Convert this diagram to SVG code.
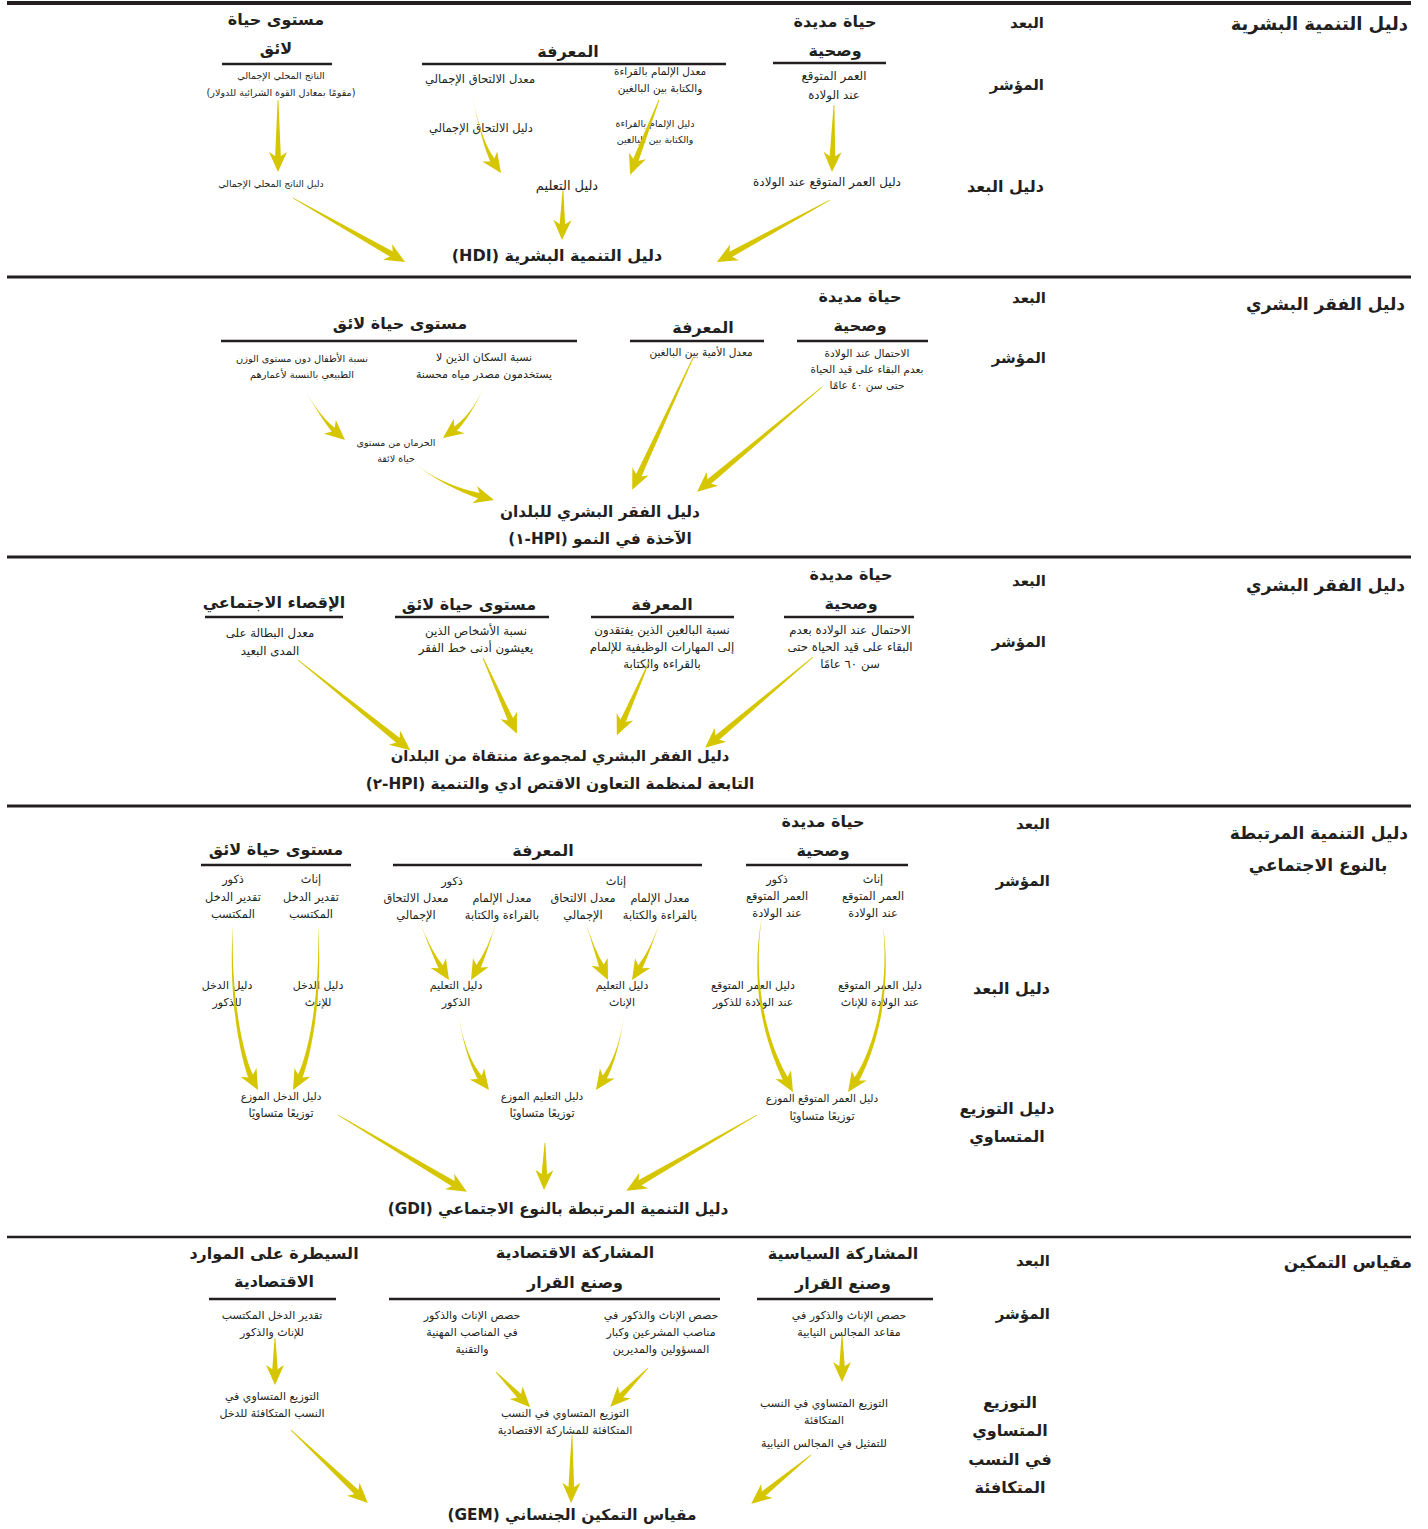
<svg xmlns="http://www.w3.org/2000/svg" xmlns:xlink="http://www.w3.org/1999/xlink" width="1428" height="1529" viewBox="0 0 1428 1529">
<defs>
<style>
text{font-family:"DejaVu Sans","Noto Sans",sans-serif;fill:#231f20}
.x{font-size:11px;text-anchor:middle}
.a{font-size:9.5px;text-anchor:middle}
.b{font-size:10.5px;text-anchor:middle}
.d{font-size:11.8px;text-anchor:middle}
.g{font-size:11.3px;text-anchor:middle}
.h{font-size:16px;font-weight:bold;text-anchor:middle}
.r{font-size:15px;font-weight:bold;text-anchor:end}
.c{font-size:15.3px;font-weight:bold;text-anchor:middle}
.ti{font-size:17px;font-weight:bold;text-anchor:end}
.m{font-size:15.3px;font-weight:bold;text-anchor:middle;direction:rtl}
.sep{stroke:#231f20;stroke-width:3}
.ul{stroke:#231f20;stroke-width:2.5}
.ar{fill:#d6c600}
</style>
<path id="shaft" d="M0,-0.4 L1,-3 L1,3 L0,0.4Z"/>
<path id="head" d="M0,0 L-20,-9 L-14,0 L-20,9Z"/>
</defs>
<rect width="1428" height="1529" fill="#fff"/>

<g id="separators">
<line class="sep" x1="7" y1="3" x2="1411" y2="3" style="stroke-width:4"/>
<line class="sep" x1="7" y1="277" x2="1411" y2="277"/>
<line class="sep" x1="7" y1="557" x2="1411" y2="557"/>
<line class="sep" x1="7" y1="806" x2="1411" y2="806"/>
<line class="sep" x1="7" y1="1237" x2="1411" y2="1237" style="stroke-width:2.5"/>
</g>

<!-- Section 1 HDI -->
<g id="hdi-title"><text class="ti" x="1408" y="30" style="font-size:18px">دليل التنمية البشرية</text></g>
<g id="hdi-labels">
<text class="r" x="1044" y="28">البعد</text>
<text class="r" x="1044" y="90">المؤشر</text>
<text class="r" x="1044" y="192" style="font-size:16px">دليل البعد</text>
</g>
<g id="hdi-dim-health"><text class="h" x="835" y="27">حياة مديدة</text><text class="h" x="835" y="56">وصحية</text><line class="ul" x1="773" y1="63" x2="886" y2="63"/></g>
<g id="hdi-dim-knowledge"><text class="h" x="568" y="57">المعرفة</text><line class="ul" x1="422" y1="64" x2="726" y2="64"/></g>
<g id="hdi-dim-living"><text class="h" x="276" y="25">مستوى حياة</text><text class="h" x="276" y="54">لائق</text><line class="ul" x1="222" y1="64" x2="332" y2="64"/></g>
<g id="hdi-ind-life"><text class="d" x="834" y="80">العمر المتوقع</text><text class="d" x="834" y="99">عند الولادة</text></g>
<g id="hdi-ind-literacy"><text class="b" x="660" y="75">معدل الإلمام بالقراءة</text><text class="b" x="660" y="92">والكتابة بين البالغين</text></g>
<g id="hdi-ind-enrol"><text class="x" x="480" y="83" style="font-size:11.5px">معدل الالتحاق الإجمالي</text></g>
<g id="hdi-ind-gdp"><text class="a" x="281" y="79">الناتج المحلي الإجمالي</text><text class="a" x="281" y="96" style="direction:rtl;font-size:9.6px">(مقومًا بمعادل القوة الشرائية للدولار)</text></g>
<g id="hdi-idx-enrol"><text class="x" x="481" y="132" style="font-size:11.4px">دليل الالتحاق الإجمالي</text></g>
<g id="hdi-idx-literacy"><text class="a" x="655" y="127">دليل الإلمام بالقراءة</text><text class="a" x="655" y="143">والكتابة بين البالغين</text></g>
<g id="hdi-idx-gdp"><text class="a" x="271" y="187" style="font-size:9.3px">دليل الناتج المحلي الإجمالي</text></g>
<g id="hdi-idx-edu"><text class="x" x="567" y="190" style="font-size:13px">دليل التعليم</text></g>
<g id="hdi-idx-life"><text class="x" x="827" y="186" style="font-size:12px">دليل العمر المتوقع عند الولادة</text></g>
<g id="hdi-main"><text class="m" x="557" y="261" style="font-size:16px">دليل التنمية البشرية (HDI)</text></g>

<!-- Section 2 HPI-1 -->
<g id="hpi1-title"><text class="ti" x="1405" y="310">دليل الفقر البشري</text></g>
<g id="hpi1-labels">
<text class="r" x="1046" y="303">البعد</text>
<text class="r" x="1046" y="363">المؤشر</text>
</g>
<g id="hpi1-dim-health"><text class="h" x="860" y="302">حياة مديدة</text><text class="h" x="860" y="331">وصحية</text><line class="ul" x1="797" y1="341" x2="928" y2="341"/></g>
<g id="hpi1-dim-knowledge"><text class="h" x="703" y="333">المعرفة</text><line class="ul" x1="630" y1="341" x2="764" y2="341"/></g>
<g id="hpi1-dim-living"><text class="h" x="400" y="329">مستوى حياة لائق</text><line class="ul" x1="221" y1="341" x2="577" y2="341"/></g>
<g id="hpi1-ind-survival"><text class="b" x="867" y="357">الاحتمال عند الولادة</text><text class="b" x="867" y="373">بعدم البقاء على قيد الحياة</text><text class="b" x="867" y="389">حتى سن ٤٠ عامًا</text></g>
<g id="hpi1-ind-illiteracy"><text class="b" x="701" y="356">معدل الأمية بين البالغين</text></g>
<g id="hpi1-ind-water"><text class="x" x="484" y="361">نسبة السكان الذين لا</text><text class="x" x="484" y="378">يستخدمون مصدر مياه محسنة</text></g>
<g id="hpi1-ind-children"><text class="a" x="302" y="362" style="font-size:9.8px">نسبة الأطفال دون مستوى الوزن</text><text class="a" x="302" y="378" style="font-size:9.8px">الطبيعي بالنسبة لأعمارهم</text></g>
<g id="hpi1-deprivation"><text class="a" x="396" y="446">الحرمان من مستوى</text><text class="a" x="396" y="462">حياة لائقة</text></g>
<g id="hpi1-main"><text class="c" x="600" y="517">دليل الفقر البشري للبلدان</text><text class="m" x="600" y="544">الآخذة في النمو (HPI-١)</text></g>

<!-- Section 3 HPI-2 -->
<g id="hpi2-title"><text class="ti" x="1405" y="591">دليل الفقر البشري</text></g>
<g id="hpi2-labels">
<text class="r" x="1046" y="586">البعد</text>
<text class="r" x="1046" y="647">المؤشر</text>
</g>
<g id="hpi2-dim-health"><text class="h" x="851" y="580">حياة مديدة</text><text class="h" x="851" y="609">وصحية</text><line class="ul" x1="784" y1="617" x2="914" y2="617"/></g>
<g id="hpi2-dim-knowledge"><text class="h" x="662" y="610">المعرفة</text><line class="ul" x1="591" y1="617" x2="734" y2="617"/></g>
<g id="hpi2-dim-living"><text class="h" x="469" y="610">مستوى حياة لائق</text><line class="ul" x1="395" y1="617" x2="549" y2="617"/></g>
<g id="hpi2-dim-exclusion"><text class="h" x="274" y="608">الإقصاء الاجتماعي</text><line class="ul" x1="205" y1="617" x2="343" y2="617"/></g>
<g id="hpi2-ind-survival"><text class="d" x="850" y="634">الاحتمال عند الولادة بعدم</text><text class="d" x="850" y="651">البقاء على قيد الحياة حتى</text><text class="d" x="850" y="668">سن ٦٠ عامًا</text></g>
<g id="hpi2-ind-literacy"><text class="d" x="662" y="634">نسبة البالغين الذين يفتقدون</text><text class="d" x="662" y="651">إلى المهارات الوظيفية للإلمام</text><text class="d" x="662" y="668">بالقراءة والكتابة</text></g>
<g id="hpi2-ind-poverty"><text class="d" x="476" y="635">نسبة الأشخاص الذين</text><text class="d" x="476" y="652">يعيشون أدنى خط الفقر</text></g>
<g id="hpi2-ind-unemployment"><text class="d" x="270" y="637">معدل البطالة على</text><text class="d" x="270" y="655">المدى البعيد</text></g>
<g id="hpi2-main"><text class="c" x="560" y="761" style="font-size:14.7px">دليل الفقر البشري لمجموعة منتقاة من البلدان</text><text class="m" x="560" y="789">التابعة لمنظمة التعاون الاقتص ادي والتنمية (HPI-٢)</text></g>

<!-- Section 4 GDI -->
<g id="gdi-title"><text class="ti" x="1408" y="839">دليل التنمية المرتبطة</text><text class="c" x="1318" y="871" style="font-size:17px">بالنوع الاجتماعي</text></g>
<g id="gdi-labels">
<text class="r" x="1050" y="829">البعد</text>
<text class="r" x="1050" y="886">المؤشر</text>
<text class="r" x="1050" y="994" style="font-size:16px">دليل البعد</text>
<text class="h" x="1007" y="1114">دليل التوزيع</text>
<text class="h" x="1007" y="1142">المتساوي</text>
</g>
<g id="gdi-dim-health"><text class="h" x="823" y="827">حياة مديدة</text><text class="h" x="823" y="856">وصحية</text><line class="ul" x1="746" y1="865" x2="908" y2="865"/></g>
<g id="gdi-dim-knowledge"><text class="h" x="543" y="856">المعرفة</text><line class="ul" x1="393" y1="865" x2="702" y2="865"/></g>
<g id="gdi-dim-living"><text class="h" x="276" y="855">مستوى حياة لائق</text><line class="ul" x1="201" y1="865" x2="351" y2="865"/></g>
<g id="gdi-ind-life-f"><text class="g" x="873" y="883">إناث</text><text class="g" x="873" y="900">العمر المتوقع</text><text class="g" x="873" y="917">عند الولادة</text></g>
<g id="gdi-ind-life-m"><text class="g" x="777" y="883">ذكور</text><text class="g" x="777" y="900">العمر المتوقع</text><text class="g" x="777" y="917">عند الولادة</text></g>
<g id="gdi-ind-f-label"><text class="g" x="616" y="885">إناث</text></g>
<g id="gdi-ind-lit-f"><text class="g" x="660" y="902">معدل الإلمام</text><text class="g" x="660" y="919">بالقراءة والكتابة</text></g>
<g id="gdi-ind-enr-f"><text class="g" x="583" y="902">معدل الالتحاق</text><text class="g" x="583" y="919">الإجمالي</text></g>
<g id="gdi-ind-m-label"><text class="g" x="452" y="885">ذكور</text></g>
<g id="gdi-ind-lit-m"><text class="g" x="502" y="902">معدل الإلمام</text><text class="g" x="502" y="919">بالقراءة والكتابة</text></g>
<g id="gdi-ind-enr-m"><text class="g" x="416" y="902">معدل الالتحاق</text><text class="g" x="416" y="919">الإجمالي</text></g>
<g id="gdi-ind-inc-f"><text class="g" x="311" y="883">إناث</text><text class="g" x="311" y="901">تقدير الدخل</text><text class="g" x="311" y="918">المكتسب</text></g>
<g id="gdi-ind-inc-m"><text class="g" x="233" y="883">ذكور</text><text class="g" x="233" y="901">تقدير الدخل</text><text class="g" x="233" y="918">المكتسب</text></g>
<g id="gdi-idx-life-f"><text class="x" x="880" y="989">دليل العمر المتوقع</text><text class="x" x="880" y="1006">عند الولادة للإناث</text></g>
<g id="gdi-idx-life-m"><text class="x" x="753" y="989">دليل العمر المتوقع</text><text class="x" x="753" y="1006">عند الولادة للذكور</text></g>
<g id="gdi-idx-edu-f"><text class="x" x="622" y="989">دليل التعليم</text><text class="x" x="622" y="1006">الإناث</text></g>
<g id="gdi-idx-edu-m"><text class="x" x="456" y="989">دليل التعليم</text><text class="x" x="456" y="1006">الذكور</text></g>
<g id="gdi-idx-inc-f"><text class="x" x="318" y="989">دليل الدخل</text><text class="x" x="318" y="1006">للإناث</text></g>
<g id="gdi-idx-inc-m"><text class="x" x="227" y="989">دليل الدخل</text><text class="x" x="227" y="1006">للذكور</text></g>
<g id="gdi-ede-life"><text class="b" x="822" y="1102">دليل العمر المتوقع الموزع</text><text class="g" x="822" y="1120">توزيعًا متساويًا</text></g>
<g id="gdi-ede-edu"><text class="b" x="542" y="1100">دليل التعليم الموزع</text><text class="g" x="542" y="1117">توزيعًا متساويًا</text></g>
<g id="gdi-ede-inc"><text class="b" x="281" y="1100">دليل الدخل الموزع</text><text class="g" x="281" y="1117">توزيعًا متساويًا</text></g>
<g id="gdi-main"><text class="m" x="558" y="1214">دليل التنمية المرتبطة بالنوع الاجتماعي (GDI)</text></g>

<!-- Section 5 GEM -->
<g id="gem-title"><text class="ti" x="1412" y="1268">مقياس التمكين</text></g>
<g id="gem-labels">
<text class="r" x="1050" y="1266">البعد</text>
<text class="r" x="1050" y="1319">المؤشر</text>
<text class="h" x="1010" y="1408">التوزيع</text>
<text class="h" x="1010" y="1436">المتساوي</text>
<text class="h" x="1010" y="1465">في النسب</text>
<text class="h" x="1010" y="1493">المتكافئة</text>
</g>
<g id="gem-dim-political"><text class="h" x="843" y="1259">المشاركة السياسية</text><text class="h" x="843" y="1289">وصنع القرار</text><line class="ul" x1="757" y1="1299" x2="933" y2="1299"/></g>
<g id="gem-dim-economic"><text class="h" x="575" y="1258">المشاركة الاقتصادية</text><text class="h" x="575" y="1288">وصنع القرار</text><line class="ul" x1="389" y1="1299" x2="720" y2="1299"/></g>
<g id="gem-dim-resources"><text class="h" x="274" y="1259">السيطرة على الموارد</text><text class="h" x="274" y="1287">الاقتصادية</text><line class="ul" x1="209" y1="1299" x2="336" y2="1299"/></g>
<g id="gem-ind-seats"><text class="x" x="849" y="1319">حصص الإناث والذكور في</text><text class="x" x="849" y="1336">مقاعد المجالس النيابية</text></g>
<g id="gem-ind-legislators"><text class="x" x="661" y="1319">حصص الإناث والذكور في</text><text class="x" x="661" y="1336">مناصب المشرعين وكبار</text><text class="x" x="661" y="1353">المسؤولين والمديرين</text></g>
<g id="gem-ind-professional"><text class="x" x="472" y="1319">حصص الإناث والذكور</text><text class="x" x="472" y="1336">في المناصب المهنية</text><text class="x" x="472" y="1353">والتقنية</text></g>
<g id="gem-ind-income"><text class="x" x="272" y="1319">تقدير الدخل المكتسب</text><text class="x" x="272" y="1336">للإناث والذكور</text></g>
<g id="gem-ede-income"><text class="x" x="272" y="1400">التوزيع المتساوي في</text><text class="x" x="272" y="1417">النسب المتكافئة  للدخل</text></g>
<g id="gem-ede-economic"><text class="x" x="565" y="1417">التوزيع المتساوي في النسب</text><text class="x" x="565" y="1434">المتكافئة للمشاركة الاقتصادية</text></g>
<g id="gem-ede-political"><text class="x" x="824" y="1407">التوزيع المتساوي في النسب</text><text class="x" x="824" y="1424">المتكافئة</text><text class="x" x="824" y="1447">للتمثيل في المجالس النيابية</text></g>
<g id="gem-main"><text class="m" x="572" y="1520">مقياس التمكين الجنساني (GEM)</text></g>

<g id="connectors" class="ar">
<!-- section 1 -->
<g transform="translate(278,100) rotate(90)"><use href="#shaft" transform="scale(60,1)"/><use href="#head" x="72"/></g>
<path d="M472,95 Q482,145 491.8,164.8 L496.8,161.4 Q482,145 472,95Z"/><use href="#head" transform="translate(501,173) rotate(55.8)"/>
<g transform="translate(659,100) rotate(111.1)"><use href="#shaft" transform="scale(68,1)"/><use href="#head" x="80"/></g>
<g transform="translate(834,105) rotate(91.7)"><use href="#shaft" transform="scale(55,1)"/><use href="#head" x="67"/></g>
<g transform="translate(563,190) rotate(91.1)"><use href="#shaft" transform="scale(38,1)"/><use href="#head" x="50"/></g>
<g transform="translate(293,198) rotate(29.7)"><use href="#shaft" transform="scale(117,1)"/><use href="#head" x="129"/></g>
<g transform="translate(830,200) rotate(151.3)"><use href="#shaft" transform="scale(117,1)"/><use href="#head" x="129"/></g>
<!-- section 2 -->
<path d="M305,390 Q322,420 333.98,434.39 L337.92,429.87 Q322,420 305,390Z"/><use href="#head" transform="translate(345,440) rotate(41)"/>
<path d="M485,385 Q470,418 450.86,428.45 L454.44,433.27 Q470,418 485,385Z"/><use href="#head" transform="translate(443,438) rotate(143.5)"/>
<path d="M413,462 Q440,485 481.63,499.68 L483.23,493.9 Q440,485 413,462Z"/><use href="#head" transform="translate(494,500) rotate(15.5)"/>
<g transform="translate(693,358) rotate(114.8)"><use href="#shaft" transform="scale(133,1)"/><use href="#head" x="145"/></g>
<g transform="translate(822,387) rotate(140)"><use href="#shaft" transform="scale(151,1)"/><use href="#head" x="163"/></g>
<!-- section 3 -->
<g transform="translate(298,660) rotate(38.8)"><use href="#shaft" transform="scale(132,1)"/><use href="#head" x="144"/></g>
<g transform="translate(483,658) rotate(65.9)"><use href="#shaft" transform="scale(71,1)"/><use href="#head" x="83"/></g>
<g transform="translate(649,662) rotate(113.7)"><use href="#shaft" transform="scale(68,1)"/><use href="#head" x="80"/></g>
<g transform="translate(813,657) rotate(139.9)"><use href="#shaft" transform="scale(129,1)"/><use href="#head" x="141"/></g>
<!-- section 4 -->
<path d="M233,925 C227.5,1000 241.5,1062 249.7,1080.85 L254.98,1078.01 C244.5,1062 230.5,1000 233,925Z"/><use href="#head" transform="translate(258,1090) rotate(61.8)"/>
<path d="M318,925 C320.5,1000 306.5,1062 296.02,1078.01 L301.3,1080.85 C309.5,1062 323.5,1000 318,925Z"/><use href="#head" transform="translate(293,1090) rotate(118.2)"/>
<path d="M420,922 Q430,950 440.04,971.47 L445.12,968.25 Q430,950 420,922Z"/><use href="#head" transform="translate(449,980) rotate(57.7)"/>
<path d="M497,920 Q488,950 474.31,968.08 L479.53,971.04 Q488,950 497,920Z"/><use href="#head" transform="translate(471,980) rotate(119.5)"/>
<path d="M585,920 Q594,950 600.2,970.4 L605.64,967.86 Q594,950 585,920Z"/><use href="#head" transform="translate(608,980) rotate(65)"/>
<path d="M661,918 Q651,950 635.88,968.25 L640.96,971.47 Q651,950 661,918Z"/><use href="#head" transform="translate(632,980) rotate(122.3)"/>
<path d="M458,1012 Q465,1058 479.4,1082.2 L484.2,1078.6 Q465,1058 458,1012Z"/><use href="#head" transform="translate(489,1090) rotate(53.1)"/>
<path d="M625,1012 Q618,1058 600.33,1078.41 L605.27,1081.81 Q618,1058 625,1012Z"/><use href="#head" transform="translate(596,1090) rotate(124.5)"/>
<path d="M762,916 C746.5,1000 773.5,1060 784.5,1083.01 L789.74,1080.07 C776.5,1060 749.5,1000 762,916Z"/><use href="#head" transform="translate(793,1092) rotate(60.6)"/>
<path d="M883,925 C890.5,1000 868.5,1060 852.33,1080.41 L857.27,1083.81 C871.5,1060 893.5,1000 883,925Z"/><use href="#head" transform="translate(848,1092) rotate(124.5)"/>
<g transform="translate(338,1115) rotate(30.8)"><use href="#shaft" transform="scale(138,1)"/><use href="#head" x="150"/></g>
<g transform="translate(545,1143) rotate(91.2)"><use href="#shaft" transform="scale(35,1)"/><use href="#head" x="47"/></g>
<g transform="translate(757,1115) rotate(149.9)"><use href="#shaft" transform="scale(139,1)"/><use href="#head" x="151"/></g>
<!-- section 5 -->
<g transform="translate(275,1338) rotate(90)"><use href="#shaft" transform="scale(35,1)"/><use href="#head" x="47"/></g>
<g transform="translate(496,1372) rotate(45.8)"><use href="#shaft" transform="scale(37,1)"/><use href="#head" x="49"/></g>
<g transform="translate(648,1368) rotate(134.3)"><use href="#shaft" transform="scale(42,1)"/><use href="#head" x="54"/></g>
<g transform="translate(842,1335) rotate(90)"><use href="#shaft" transform="scale(35,1)"/><use href="#head" x="47"/></g>
<g transform="translate(572,1435) rotate(90.8)"><use href="#shaft" transform="scale(56,1)"/><use href="#head" x="68"/></g>
<g transform="translate(291,1430) rotate(43.5)"><use href="#shaft" transform="scale(94,1)"/><use href="#head" x="106"/></g>
<g transform="translate(811,1455) rotate(140.8)"><use href="#shaft" transform="scale(65,1)"/><use href="#head" x="77"/></g>
</g>
</svg>
